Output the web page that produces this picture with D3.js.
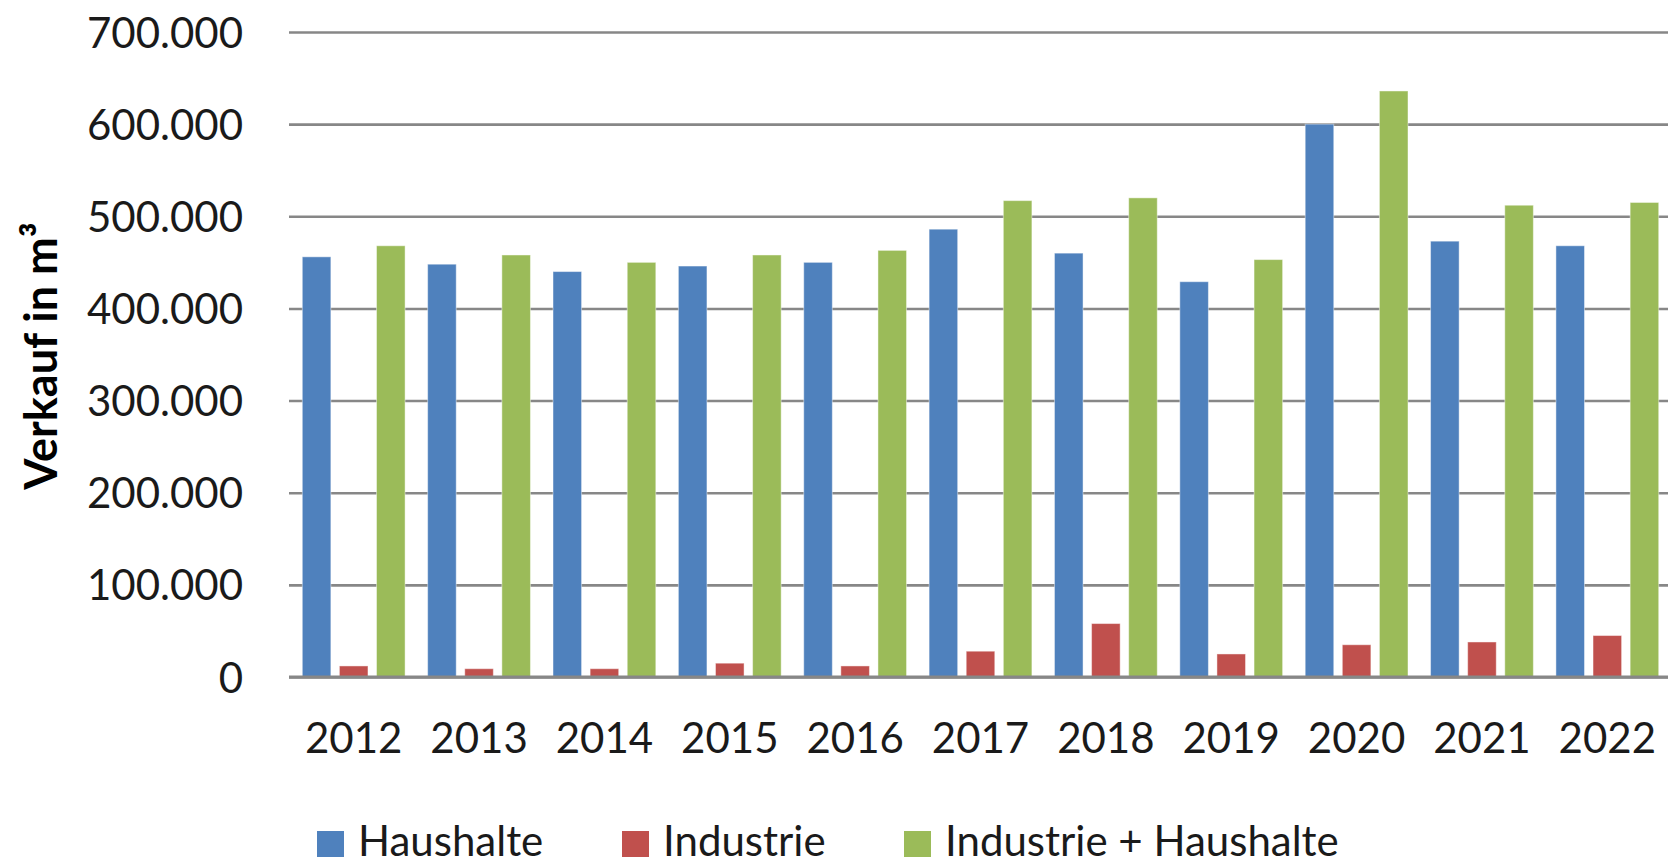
<!DOCTYPE html>
<html>
<head>
<meta charset="utf-8">
<script src="https://cdn.jsdelivr.net/npm/d3@7"></script>
<style>
  html, body { margin: 0; padding: 0; background: #fff; }
  svg { display: block; font-family: Lato, "Open Sans", sans-serif; }
</style>
</head>
<body>
<svg id="svg" width="1668" height="865"></svg>
<script>
// Daten
const years = ['2012', '2013', '2014', '2015', '2016', '2017', '2018', '2019', '2020', '2021', '2022'];
const seriesNames = ['Haushalte', 'Industrie', 'Industrie + Haushalte'];
const haushalte = [456000, 448000, 440000, 446000, 450000, 486000, 460000, 429000, 600000, 473000, 468000];
const industrie = [12000, 9000, 9000, 15000, 12000, 28000, 58000, 25000, 35000, 38000, 45000];
const gesamt    = [468000, 458000, 450000, 458000, 463000, 517000, 520000, 453000, 636000, 512000, 515000];
const yTicks = [0, 100000, 200000, 300000, 400000, 500000, 600000, 700000];
const colors = ['#4F81BD', '#C0504D', '#9BBB59'];

const seriesValues = [haushalte, industrie, gesamt];
const rows = years.map((y, i) => ({ year: y, values: seriesValues.map(s => s[i]) }));

const svg = d3.select('#svg');
const plot = { left: 289, right: 1668, top: 32, bottom: 677 };
const font = 'Lato, "Open Sans", sans-serif';

const de = d3.formatLocale({ decimal: ',', thousands: '.', grouping: [3], currency: ['', '€'] });
const fmt = de.format(',');

const y = d3.scaleLinear().domain([0, 700000]).range([plot.bottom, plot.top]);
const x0 = d3.scaleBand().domain(years).range([plot.left + 2, plot.right + 2])
  .paddingInner(0.18).paddingOuter(0.09);
const x1 = d3.scaleBand().domain(d3.range(seriesNames.length)).range([0, x0.bandwidth()])
  .paddingInner(0.23);

// Gitterlinien + y-Beschriftung
const yAxis = d3.axisLeft(y).tickValues(yTicks).tickFormat(fmt)
  .tickSize(-(plot.right - plot.left)).tickPadding(46);
const gy = svg.append('g').attr('transform', `translate(${plot.left},0)`).call(yAxis)
  .attr('font-family', font);
gy.select('.domain').remove();
gy.selectAll('.tick line').attr('stroke', '#878787').attr('stroke-width', 2.6);
gy.selectAll('.tick text').attr('fill', '#1a1a1a').attr('font-size', 42).attr('dy', '0.36em');

// Balken
const groups = svg.append('g').selectAll('g').data(rows).join('g')
  .attr('transform', d => `translate(${x0(d.year)},0)`);
groups.selectAll('rect').data(d => d.values).join('rect')
  .attr('x', (d, i) => x1(i))
  .attr('width', x1.bandwidth())
  .attr('y', d => y(d))
  .attr('height', d => y(0) - y(d))
  .attr('fill', (d, i) => colors[i])
  .attr('stroke', 'rgba(255,255,255,0.45)')
  .attr('stroke-width', 1);

// x-Achse
svg.append('line')
  .attr('x1', plot.left).attr('x2', plot.right)
  .attr('y1', y(0)).attr('y2', y(0))
  .attr('stroke', '#878787').attr('stroke-width', 3);

const xAxis = d3.axisBottom(x0).tickSize(0).tickPadding(46);
const gx = svg.append('g').attr('transform', `translate(0,${plot.bottom})`).call(xAxis)
  .attr('font-family', font);
gx.select('.domain').remove();
gx.selectAll('.tick text').attr('fill', '#1a1a1a').attr('font-size', 42);

// Achsentitel
svg.append('text')
  .attr('transform', 'translate(57,356) rotate(-90)')
  .attr('text-anchor', 'middle')
  .attr('font-size', 45).attr('font-weight', 'bold').attr('fill', '#000')
  .text('Verkauf in m³');

// Legende
const legendX = [317, 622, 904];
const legend = svg.append('g').selectAll('g').data(seriesNames).join('g')
  .attr('transform', (d, i) => `translate(${legendX[i]},831)`);
legend.append('rect').attr('width', 27).attr('height', 26)
  .attr('fill', (d, i) => colors[i]);
legend.append('text').attr('x', 41).attr('y', 25)
  .attr('font-size', 42).attr('fill', '#1a1a1a')
  .text(d => d);
</script>
</body>
</html>
